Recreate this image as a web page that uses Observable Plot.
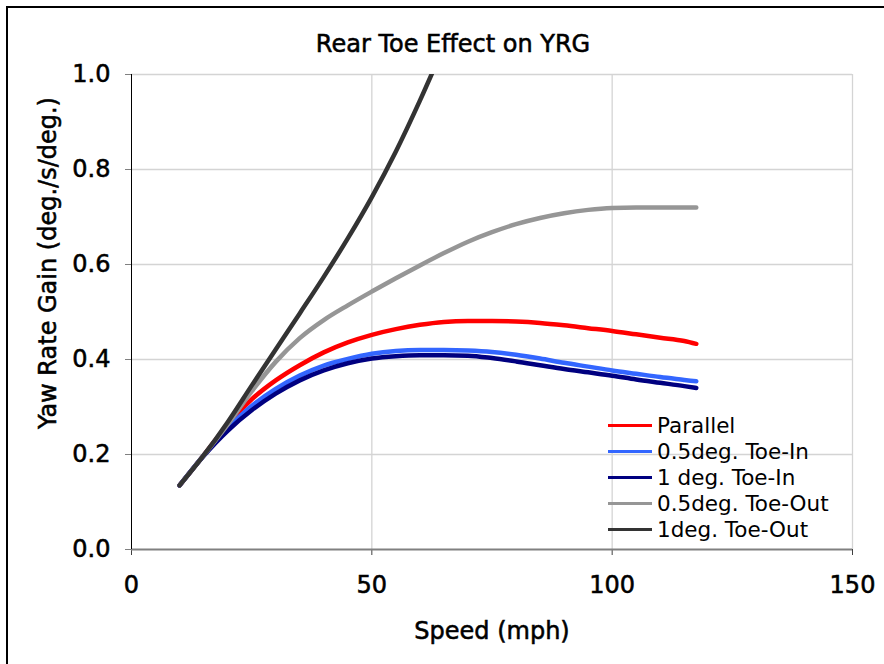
<!DOCTYPE html>
<html><head><meta charset="utf-8">
<script src="https://cdn.jsdelivr.net/npm/d3@7"></script>
<script src="https://cdn.jsdelivr.net/npm/@observablehq/plot@0.6"></script>
<style>
html,body{margin:0;padding:0;background:#fff;overflow:hidden;}
#wrap{position:relative;width:884px;height:664px;overflow:hidden;font-family:"DejaVu Sans",sans-serif;background:#fff;}
#frame{position:absolute;left:6px;top:6px;width:900px;height:700px;border:2px solid #000;box-sizing:border-box;}
#chart{position:absolute;left:0;top:0;}
#chart svg text{stroke:#000;stroke-width:0.55px;paint-order:stroke;}
#legend{position:absolute;left:608px;top:412px;font-size:21.5px;color:#000;}
.row{display:flex;align-items:center;height:26.2px;white-space:nowrap;}
.sw{width:44px;height:3px;margin-right:5px;}
</style></head><body>
<div id="wrap"><div id="frame"></div><div id="chart"></div><div id="legend"></div></div>
<script>
const titleText = "Rear Toe Effect on YRG";
const xLabel = "Speed (mph)";
const yLabel = "Yaw Rate Gain (deg./s/deg.)";
const xTicks = [0, 50, 100, 150];
const yTicks = [0, 0.2, 0.4, 0.6, 0.8, 1.0];

const seriesNames = ["Parallel", "0.5deg. Toe-In", "1 deg. Toe-In", "0.5deg. Toe-Out", "1deg. Toe-Out"];
const seriesColors = ["#ff0000", "#3366ff", "#000080", "#969696", "#333333"];

const speed = [10,15,20,25,30,35,40,45,50,55,60,65,70,75,80,85,90,95,100,105,110,115,117.5];
const parallel = [0.135,0.198,0.262,0.316,0.356,0.388,0.415,0.436,0.452,0.464,0.473,0.479,0.481,0.481,0.480,0.477,0.472,0.466,0.460,0.453,0.446,0.439,0.433];
const toeIn05 = [0.135,0.198,0.255,0.302,0.338,0.366,0.387,0.401,0.412,0.418,0.420,0.420,0.419,0.416,0.410,0.402,0.393,0.385,0.377,0.370,0.363,0.357,0.354];
const toeIn1 = [0.135,0.197,0.250,0.293,0.328,0.356,0.377,0.392,0.402,0.407,0.409,0.409,0.408,0.403,0.396,0.388,0.380,0.373,0.366,0.358,0.351,0.344,0.340];
const toeOut05 = [0.135,0.198,0.263,0.333,0.395,0.445,0.483,0.514,0.543,0.571,0.598,0.624,0.648,0.668,0.685,0.698,0.708,0.715,0.719,0.720,0.720,0.720,0.720];
const speedToeOut1 = [10,15,20,25,30,35,40,45,50,55,60,65];
const toeOut1 = [0.135,0.198,0.268,0.345,0.421,0.497,0.574,0.655,0.742,0.838,0.945,1.060];

const rows = [];
[[speed, parallel], [speed, toeIn05], [speed, toeIn1], [speed, toeOut05], [speedToeOut1, toeOut1]]
  .forEach(([xs, ys], i) => xs.forEach((s, j) => rows.push({speed: s, gain: ys[j], series: seriesNames[i]})));

const chart = Plot.plot({
  width: 884, height: 664,
  marginLeft: 131, marginRight: 32, marginTop: 74, marginBottom: 115,
  x: {domain: [0, 150]},
  y: {domain: [0, 1]},
  color: {domain: seriesNames, range: seriesColors},
  style: {fontFamily: "DejaVu Sans", fontSize: "24px", color: "#000", background: "transparent", overflow: "visible"},
  marks: [
    Plot.gridX(xTicks.filter(d => d > 0), {stroke: "#d4d4d4", strokeOpacity: 1, strokeWidth: 1.3}),
    Plot.gridY(yTicks.filter(d => d > 0), {stroke: "#d4d4d4", strokeOpacity: 1, strokeWidth: 1.3}),
    Plot.axisY(yTicks, {tickSize: 6, tickPadding: 15, tickFormat: d => d.toFixed(1), stroke: "#808080", fill: "#000", label: null, fontSize: 24}),
    Plot.axisX(xTicks, {tickSize: 6, tickPadding: 20, stroke: "#404040", fill: "#000", label: null, fontSize: 24}),
    Plot.ruleY([0], {stroke: "#808080", strokeWidth: 2}),
    Plot.ruleX([0], {stroke: "#000", strokeWidth: 1}),
    Plot.line(rows, {x: "speed", y: "gain", z: "series", stroke: "series", strokeWidth: 4.5, curve: "monotone-x", clip: true, strokeLinecap: "round", strokeLinejoin: "round"}),
    Plot.text([titleText], {text: d => d, frameAnchor: "top", dx: -39, dy: -30, lineAnchor: "middle", fontSize: 24, fill: "#000"}),
    Plot.text([xLabel], {text: d => d, frameAnchor: "bottom", dy: 82, lineAnchor: "middle", fontSize: 24, fill: "#000"}),
    Plot.text([yLabel], {text: d => d, frameAnchor: "left", textAnchor: "middle", dx: -83.5, dy: -49, rotate: -90, lineAnchor: "middle", fontSize: 24, fill: "#000"})
  ]
});
document.getElementById("chart").appendChild(chart);

const legend = document.getElementById("legend");
seriesNames.forEach((name, i) => {
  const row = document.createElement("div");
  row.className = "row";
  const sw = document.createElement("span");
  sw.className = "sw";
  sw.style.background = seriesColors[i];
  const t = document.createElement("span");
  t.textContent = name;
  row.appendChild(sw); row.appendChild(t);
  legend.appendChild(row);
});
</script></body></html>
